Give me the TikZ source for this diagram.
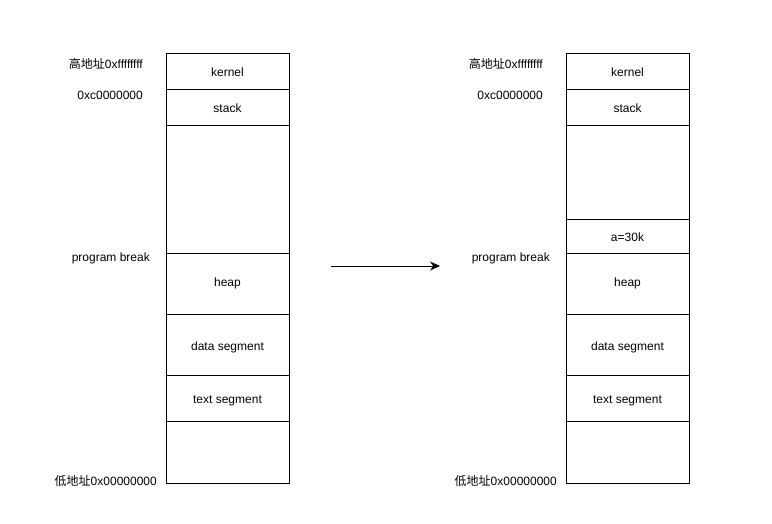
\documentclass[tikz,border=0pt]{standalone}
\usepackage{fontspec}
\setmainfont{Liberation Sans}
\newfontfamily\cjk{Noto Sans CJK SC}
\usepackage{tikz}
\usetikzlibrary{arrows.meta, positioning}

\begin{document}
\begin{tikzpicture}[
    x=1pt, y=-1pt,
    seg/.style={draw, line width=1pt, minimum width=123pt, inner sep=0pt, text height=12pt, text depth=1pt, font=\fontsize{12}{14}\selectfont},
    addr/.style={anchor=east, inner sep=0pt, font=\fontsize{12}{14}\selectfont},
]
    \useasboundingbox (0,0) rectangle (772,523);

    % Left memory layout
    \node[seg, minimum height=36pt] (lkernel) at (227.5, 71) {kernel};
    \node[seg, minimum height=36pt] (lstack) at (227.5, 107) {stack};
    \node[seg, minimum height=128pt] (lfree) at (227.5, 189) {};
    \node[seg, minimum height=61pt, text height=9pt, text depth=3pt] (lheap) at (227.5, 283.5) {heap};
    \node[seg, minimum height=61pt] (ldata) at (227.5, 344.5) {data segment};
    \node[seg, minimum height=46pt] (ltext) at (227.5, 398) {text segment};
    \node[seg, minimum height=62pt] (lbottom) at (227.5, 452) {};

    % Left address labels
    \node[addr] (lhigh) at (143, 64) {{\cjk 高地址}0xffffffff};
    \node[addr] (lkaddr) at (143, 95) {0xc0000000};
    \node[addr] (lbreak) at (150, 258) {program break};
    \node[addr] (llow) at (157, 481) {{\cjk 低地址}0x00000000};

    % Right memory layout
    \node[seg, minimum height=36pt] (rkernel) at (627.5, 71) {kernel};
    \node[seg, minimum height=36pt] (rstack) at (627.5, 107) {stack};
    \node[seg, minimum height=94pt] (rfree) at (627.5, 172) {};
    \node[seg, minimum height=34pt] (ralloc) at (627.5, 236) {a=30k};
    \node[seg, minimum height=61pt, text height=9pt, text depth=3pt] (rheap) at (627.5, 283.5) {heap};
    \node[seg, minimum height=61pt] (rdata) at (627.5, 344.5) {data segment};
    \node[seg, minimum height=46pt] (rtext) at (627.5, 398) {text segment};
    \node[seg, minimum height=62pt] (rbottom) at (627.5, 452) {};

    % Right address labels
    \node[addr] (rhigh) at (543, 64) {{\cjk 高地址}0xffffffff};
    \node[addr] (rkaddr) at (543, 95) {0xc0000000};
    \node[addr] (rbreak) at (550, 258) {program break};
    \node[addr] (rlow) at (557, 481) {{\cjk 低地址}0x00000000};

    % Arrow
    \coordinate (arrstart) at (331, 266);
    \coordinate (arrend) at (440, 266);
    \draw[line width=1pt, -{Stealth[length=10pt, width=9pt]}] (arrstart) -- (arrend);

\end{tikzpicture}
\end{document}
